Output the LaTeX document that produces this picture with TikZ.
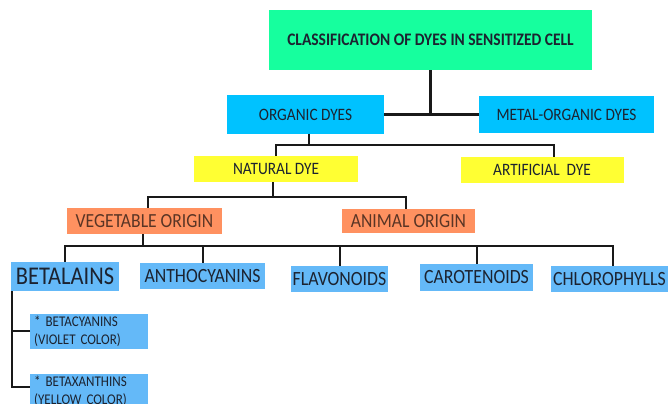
\documentclass[tikz,border=0pt]{standalone}
\usepackage{fontspec}
\setmainfont{Carlito}[FakeStretch=0.88]
\usepackage{tikz}
\usetikzlibrary{shapes}

\definecolor{titlegreen}{HTML}{16FF9E}
\definecolor{dyecyan}{HTML}{00C2FF}
\definecolor{dyeyellow}{HTML}{FFFF33}
\definecolor{dyeorange}{HTML}{FF9160}
\definecolor{dyeblue}{HTML}{64B9F8}
\definecolor{textdark}{HTML}{1C2330}
\definecolor{textbrown}{HTML}{5A3525}

\begin{document}
\begin{tikzpicture}[x=1pt,y=-1pt,line join=miter,
                    box/.style={rectangle,inner sep=0pt,text=textdark},
                    title box/.style={box,fill=titlegreen,font=\fontsize{17.6}{20}\selectfont\bfseries},
                    dye box/.style={box,fill=dyecyan,font=\fontsize{17.4}{20}\selectfont},
                    kind box/.style={box,fill=dyeyellow,font=\fontsize{17.4}{20}\selectfont},
                    origin box/.style={box,fill=dyeorange,text=textbrown,font=\fontsize{20}{22}\selectfont},
                    pigment box/.style={box,fill=dyeblue,font=\fontsize{20.2}{22}\selectfont},
                    sub box/.style={box,fill=dyeblue,align=left,text width=110pt,inner xsep=4pt,inner ysep=2pt,
                                    font=\fontsize{14.8}{18}\selectfont},
                    top line/.style={line width=3pt,draw=black!90},
                    bus line/.style={line width=2pt,draw=black!90}]

		\useasboundingbox (0,0) rectangle (670,404);
		\clip (0,0) rectangle (670,404);

		% boxes
		\node[title box,minimum width=323pt,minimum height=60pt] (title) at (430.5,40) {CLASSIFICATION OF DYES IN SENSITIZED CELL};
		\node[dye box,minimum width=157pt,minimum height=38pt] (organic) at (305.5,114.5) {ORGANIC DYES};
		\node[dye box,minimum width=175pt,minimum height=36pt] (metal) at (566.5,114.5) {METAL-ORGANIC DYES};
		\node[kind box,minimum width=164pt,minimum height=26pt] (natural) at (276,169) {NATURAL DYE};
		\node[kind box,minimum width=163pt,minimum height=26pt] (artificial) at (542,170) {ARTIFICIAL\ \ DYE};
		\node[origin box,minimum width=155pt,minimum height=26pt] (vegetable) at (144.5,221) {VEGETABLE ORIGIN};
		\node[origin box,minimum width=133pt,minimum height=24pt] (animal) at (408.5,221) {ANIMAL ORIGIN};

		\node[pigment box,minimum width=108pt,minimum height=29pt,font=\fontsize{25.5}{28}\selectfont] (betalains) at (65,276.5) {BETALAINS};
		\node[pigment box,minimum width=125pt,minimum height=26pt] (antho) at (202.5,276) {ANTHOCYANINS};
		\node[pigment box,minimum width=97pt,minimum height=26pt] (flavo) at (339.5,279) {FLAVONOIDS};
		\node[pigment box,minimum width=113pt,minimum height=27pt] (carot) at (476.5,277.5) {CAROTENOIDS};
		\node[pigment box,minimum width=117pt,minimum height=26pt] (chloro) at (609.5,279) {CHLOROPHYLLS};

		\node[sub box,anchor=north west] (betacy) at (30,314) {* BETACYANINS\\(VIOLET COLOR)};
		\node[sub box,anchor=north west] (betaxa) at (30,374) {* BETAXANTHINS\\(YELLOW COLOR)};

		% connectors
		\draw[top line] (title.south) -- (title.south |- organic.east);
		\draw[top line] (organic.east) -- (metal.west);

		\draw[bus line] ([xshift=3pt]organic.south) -- ++(0,11) coordinate (j1);
		\draw[bus line] (natural.north) |- (j1) -| ([xshift=12pt]artificial.north);

		\draw[bus line] ([xshift=-3pt]natural.south) -- ++(0,15) coordinate (j2);
		\draw[bus line] ([xshift=3pt]vegetable.north) |- (j2) -| ([xshift=-3pt]animal.north);

		\draw[bus line] ([xshift=-2pt]vegetable.south) -- ++(0,12) coordinate (j3);
		\draw[bus line] (betalains.north) |- (j3) -| ([xshift=3pt]chloro.north);
		\foreach \p in {antho,flavo,carot}
			\draw[bus line] (\p.north) -- (\p.north |- j3);

		\draw[bus line] ([xshift=1pt]betalains.south west) coordinate (j4) |- ([yshift=4pt]betaxa.west);
		\draw[bus line] (betacy.west) -- (betacy.west -| j4);
	\end{tikzpicture}
\end{document}
